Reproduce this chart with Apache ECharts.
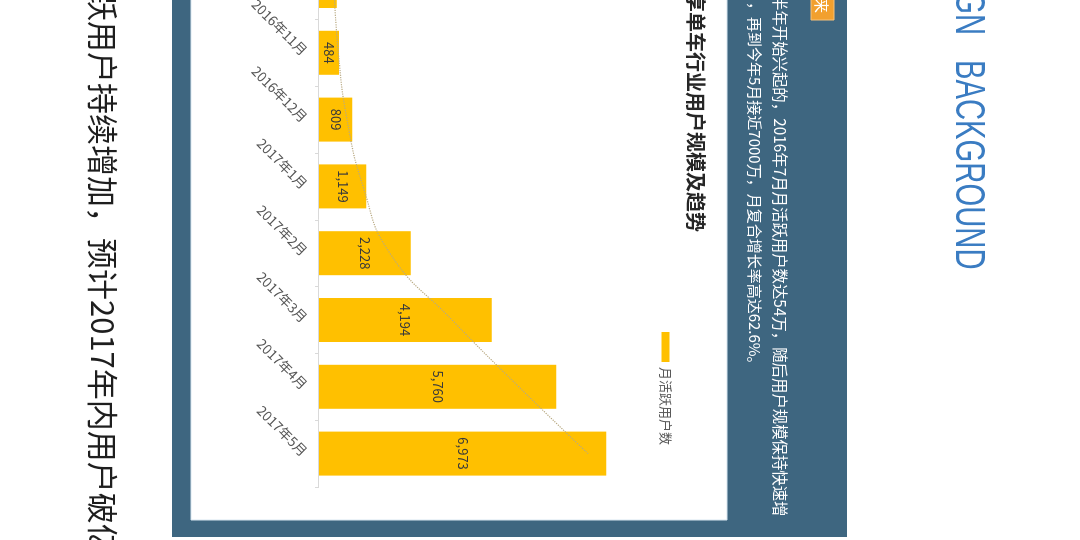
<!DOCTYPE html>
<html>
<head>
<meta charset="utf-8">
<script src="https://cdn.jsdelivr.net/npm/echarts@6/dist/echarts.min.js"></script>
<style>
  html, body { margin: 0; padding: 0; background: #ffffff; overflow: hidden; width: 1080px; height: 540px; }
  #chart { position: absolute; left: 0; top: 0; width: 740px; height: 1080px;
           transform-origin: 0 0; transform: translate(1080px, -100px) rotate(90deg); }
</style>
</head>
<body>
<div id="chart"></div>
<script>
// ---- data ----
const categories = ['2016年10月', '2016年11月', '2016年12月', '2017年1月', '2017年2月', '2017年3月', '2017年4月', '2017年5月'];
const activeUsers = [430, 484, 809, 1149, 2228, 4194, 5760, 6973];
const trendValues = [360, 470, 680, 1070, 1720, 3230, 4850, 6530];
const seriesName = '月活跃用户数';
const chartTitle = '共享单车行业用户规模及趋势';
const headline = '月活跃用户持续增加，预计2017年内用户破亿';
const descLine1 = '半年开始兴起的，2016年7月月活跃用户数达54万，随后用户规模保持快速增';
const descLine2 = '，再到今年5月接近7000万，月复合增长率高达62.6%。';
const tagText = '来';
const bannerA = 'DESIGN';
const bannerB = 'BACKGROUND';

const CJK = '"Noto Sans CJK SC", "Noto Sans", sans-serif';
const chart = echarts.init(document.getElementById('chart'), null, { width: 740, height: 1080 });

function fmt(v) { return String(v).replace(/\B(?=(\d{3})+(?!\d))/g, ','); }

chart.setOption({
  backgroundColor: '#ffffff',
  animation: false,
  textStyle: { fontFamily: CJK },
  title: {
    text: chartTitle,
    left: 72, top: 374, padding: 0,
    textStyle: { fontSize: 20, fontWeight: 'bold', color: '#262626', fontFamily: CJK }
  },
  legend: {
    data: [seriesName],
    left: 432, top: 408, padding: 0,
    icon: 'rect', itemWidth: 30, itemHeight: 8, itemGap: 10,
    textStyle: { fontSize: 13, color: '#595959', fontFamily: CJK }
  },
  grid: { left: 52.6, right: 153, top: 431.4, bottom: 319, containLabel: false },
  xAxis: {
    type: 'category',
    data: categories,
    axisLine: { lineStyle: { color: '#d9d9d9', width: 1 } },
    axisTick: { show: true, length: 4, lineStyle: { color: '#d9d9d9' } },
    axisLabel: { interval: 0, rotate: 45, margin: 14, fontSize: 13.5, color: '#555555', fontFamily: CJK }
  },
  yAxis: {
    type: 'value', min: 0, max: 8000,
    axisLine: { show: false }, axisTick: { show: false },
    axisLabel: { show: false }, splitLine: { show: false }
  },
  graphic: [
    { type: 'rect', z: -10, shape: { x: 0, y: 233, width: 637, height: 675 }, style: { fill: '#3e6680' } },
    { type: 'rect', z: -9, shape: { x: 0, y: 353, width: 620, height: 536 }, style: { fill: '#ffffff', stroke: '#d8e6f0', lineWidth: 1 } },
    { type: 'rect', z: -8, shape: { x: 60, y: 246, width: 60, height: 23 }, style: { fill: '#f2a02e', stroke: '#f7c27a', lineWidth: 1 } },
    { type: 'text', z: -7, x: 113, y: 258, style: { text: tagText, fill: '#ffffff', fontSize: 15, fontFamily: CJK, align: 'right', verticalAlign: 'middle' } },
    { type: 'text', z: -7, x: 95, y: 300, style: { text: descLine1, fill: '#ffffff', fontSize: 15.4, fontFamily: CJK, align: 'left', verticalAlign: 'middle' } },
    { type: 'text', z: -7, x: 102, y: 325, style: { text: descLine2, fill: '#ffffff', fontSize: 15, fontFamily: CJK, align: 'left', verticalAlign: 'middle' } },
    { type: 'text', z: -7, x: 28, y: 977, style: { text: headline, fill: '#1e1e1e', fontSize: 31, fontFamily: CJK, align: 'left', verticalAlign: 'middle' } },
    { type: 'text', z: -7, x: 135, y: 112, scaleX: 0.68, style: { text: bannerA, fill: '#3a7cc2', fontSize: 43, fontFamily: '"Liberation Sans Narrow", "Liberation Sans", sans-serif', align: 'right', verticalAlign: 'middle' } },
    { type: 'text', z: -7, x: 160, y: 112, scaleX: 0.68, style: { text: bannerB, fill: '#3a7cc2', fontSize: 43, fontFamily: '"Liberation Sans Narrow", "Liberation Sans", sans-serif', align: 'left', verticalAlign: 'middle' } }
  ],
  series: [
    {
      name: seriesName,
      type: 'bar',
      data: activeUsers,
      barWidth: 44,
      itemStyle: { color: '#ffc000' },
      label: { show: true, position: 'inside', color: '#3a3a3a', fontSize: 13, fontFamily: CJK, formatter: p => fmt(p.value) }
    },
    {
      name: '趋势',
      type: 'line',
      data: trendValues,
      smooth: true,
      symbol: 'none',
      z: 5,
      lineStyle: { color: '#b8a982', width: 1.2, type: 'dotted' }
    }
  ]
});
</script>
</body>
</html>
